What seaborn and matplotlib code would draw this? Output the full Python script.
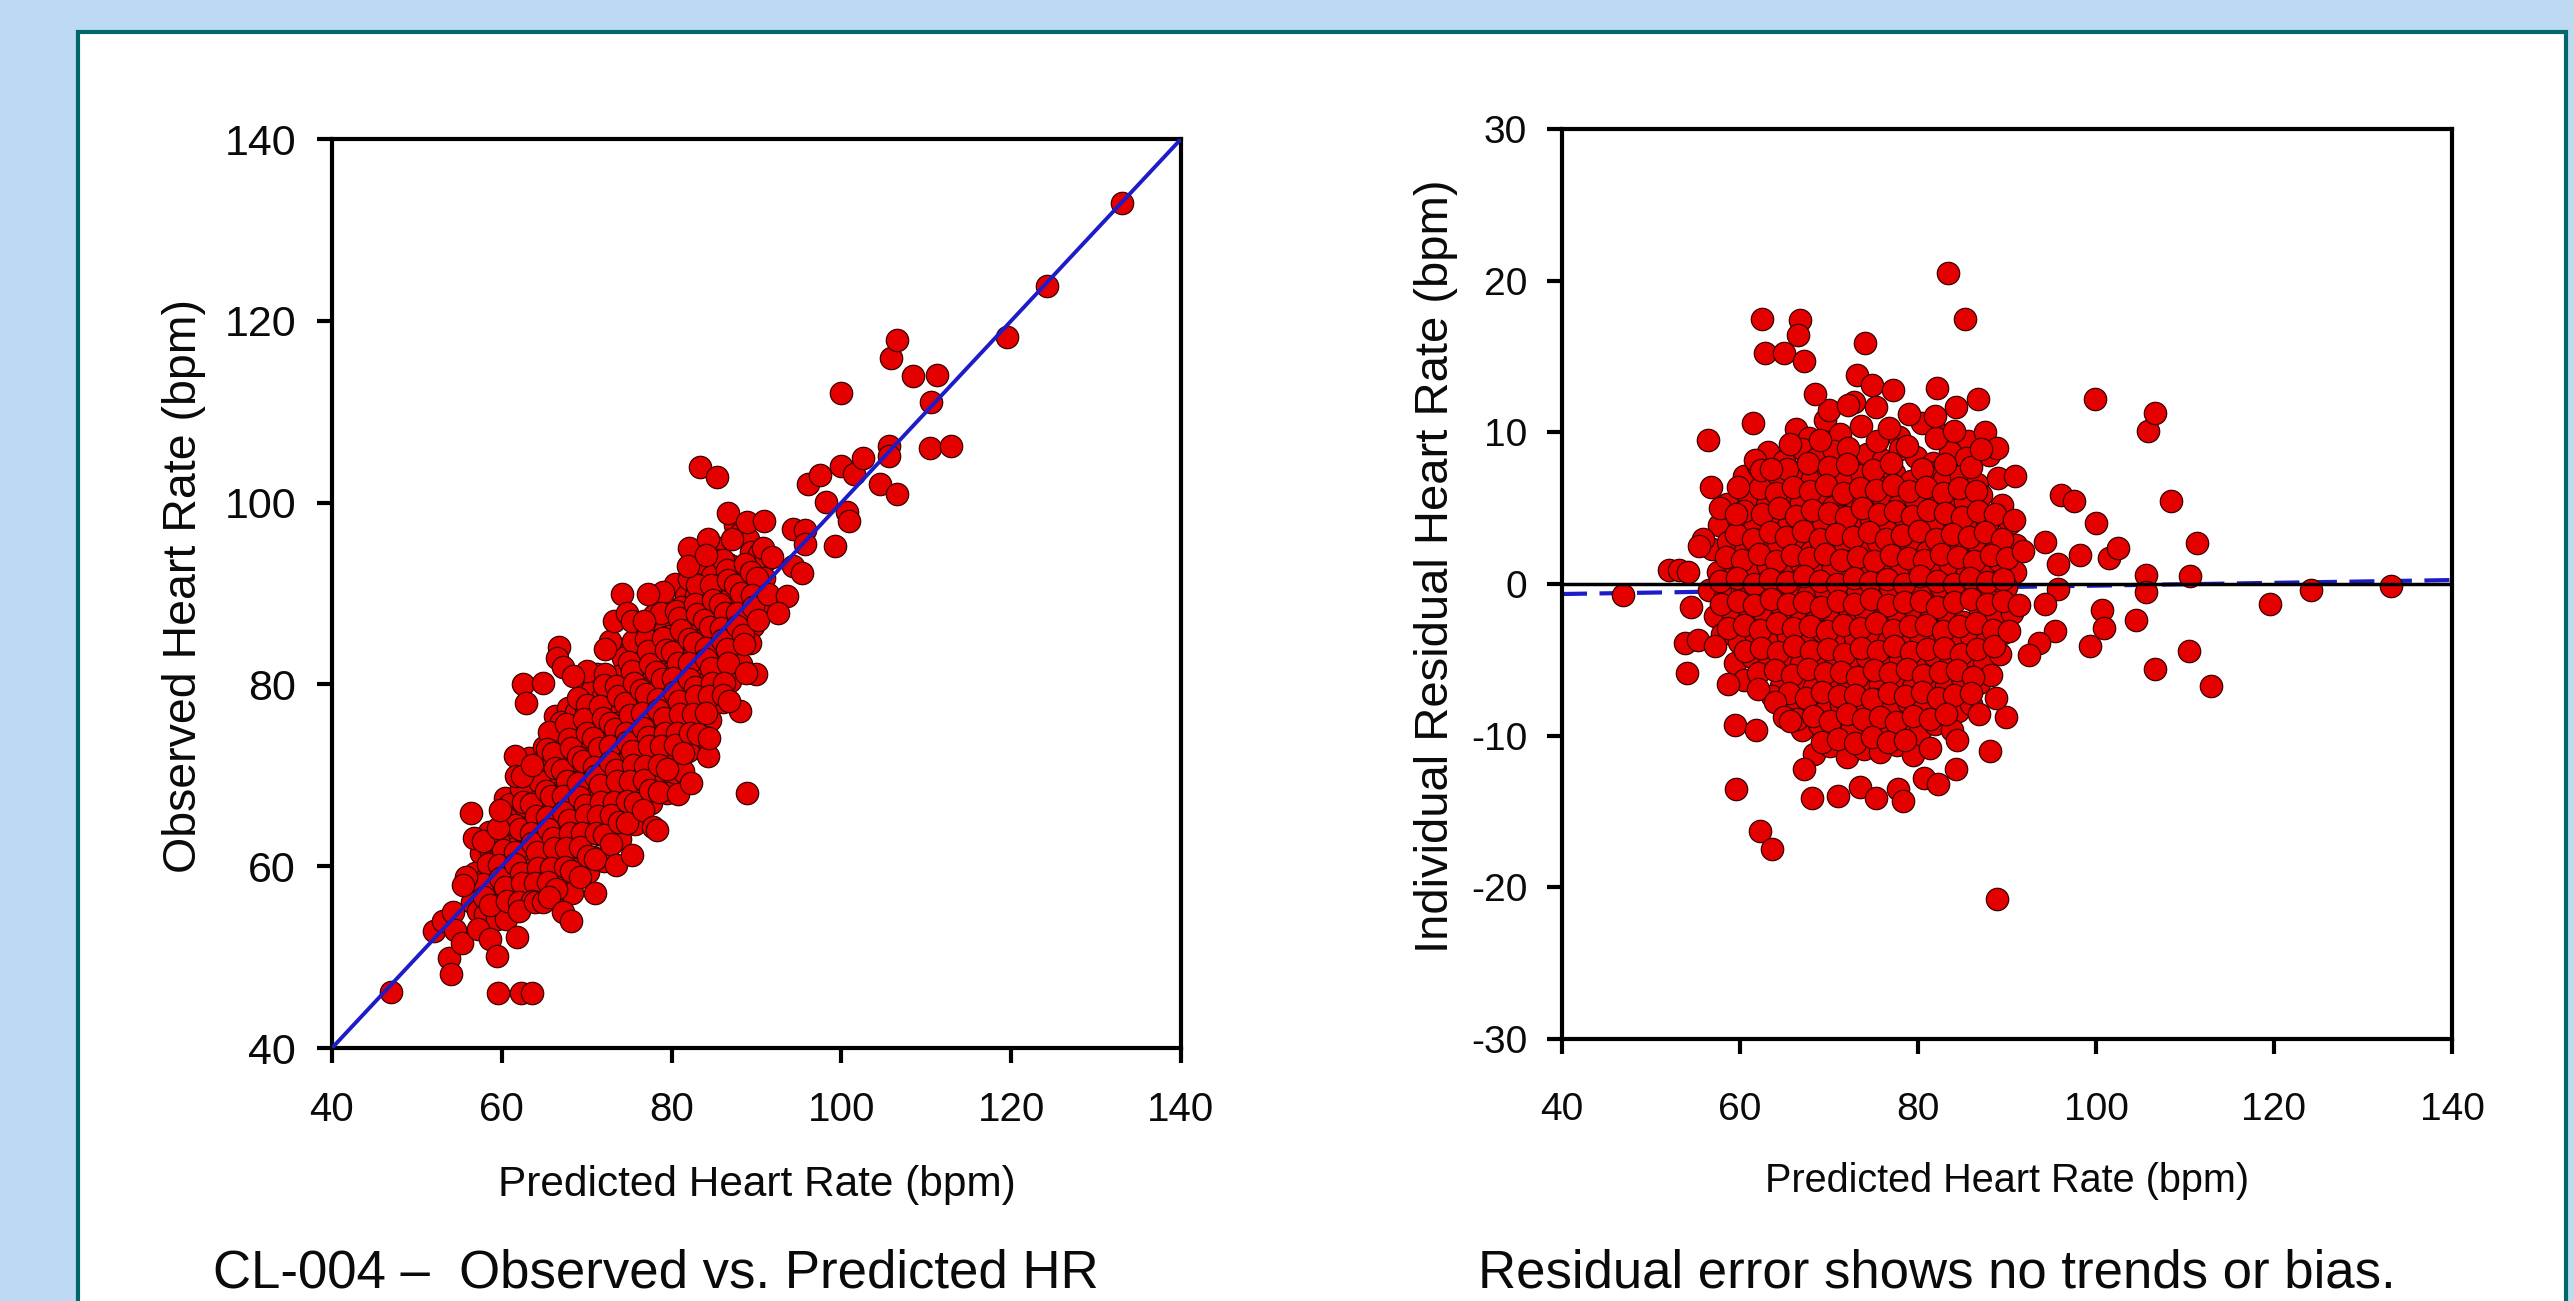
import numpy as np
import pandas as pd
import seaborn as sns
import matplotlib.pyplot as plt
from matplotlib.patches import Rectangle

## scatter values: predicted HR (bpm) and residual (observed - predicted)
## isolated points first
pred_out = [46.9, 52.0, 53.1, 54.2, 55.8, 55.4, 56.4, 56.7, 54.5, 53.8,
            54.0, 55.3, 57.2, 57.8, 59.6, 59.8, 58.6, 59.4, 59.6, 61.8,
            62.0, 61.5, 61.7, 62.4, 63.5, 62.5, 62.8, 64.9, 66.7, 66.5,
            67.2, 62.3, 63.6, 63.9, 64.9, 65.6, 67.2, 68.1, 71.0, 73.5,
            75.3, 77.8, 78.3, 80.7, 82.3, 84.3, 84.4, 88.1, 88.9, 89.9,
            88.8, 86.8, 83.4, 85.3, 74.1, 73.2, 74.8, 77.2, 75.3, 82.1,
            86.7, 84.3, 68.4, 72.1, 81.9, 76.7, 84.1, 88.9, 87.1, 90.9,
            90.8, 91.8, 94.3, 96.1, 97.5, 98.2, 99.9, 100.0, 101.5, 102.5,
            95.7, 95.7, 94.3, 91.4, 90.2, 95.4, 93.6, 92.5, 99.3, 100.7,
            100.9, 104.5, 105.6, 105.6, 105.8, 106.6, 106.6, 108.4, 110.6, 111.3,
            110.4, 112.9, 119.5, 124.2, 133.1]
res_out = [-0.75, 0.9, 0.9, 0.8, 3.0, 2.5, 9.5, 6.4, -1.5, -3.9,
           -5.9, -3.7, -4.1, 5.0, 4.6, 6.4, -6.6, -9.3, -13.5, -9.6,
           -6.9, 10.6, 8.2, 7.5, 7.6, 17.5, 15.2, 15.2, 17.4, 16.4,
           14.7, -16.3, -17.5, -7.8, -8.8, -9.0, -12.2, -14.1, -14.0, -13.4,
           -14.1, -13.5, -14.3, -12.8, -13.2, -12.2, -10.3, -11.0, -20.8, -8.8,
           -7.5, -8.6, 20.5, 17.5, 15.9, 13.8, 13.1, 12.8, 11.7, 12.9,
           12.2, 11.7, 12.5, 11.8, 11.1, 10.3, 10.1, 9.0, 8.9, 7.1,
           4.2, 2.2, 2.8, 5.9, 5.5, 1.9, 12.2, 4.0, 1.7, 2.4,
           1.3, -0.3, -1.3, -1.4, -3.1, -3.1, -3.9, -4.7, -4.1, -1.7,
           -2.9, -2.4, 0.6, -0.5, 10.1, 11.3, -5.6, 5.5, 0.5, 2.7,
           -4.4, -6.7, -1.3, -0.4, -0.1]

## the dense core, estimated band by band (top to bottom)
pred_core = [
    66.3, 67.8, 69.5, 71.2, 73.6, 77.9, 80.4, 83.0, 85.6, 87.5,
    63.2, 65.0, 67.0, 68.7, 70.6, 72.5, 74.3, 76.1, 78.0, 79.8, 81.7, 83.6, 85.4, 88.0,
    60.4, 64.4, 66.2, 68.1, 69.9, 71.8, 73.7, 75.5, 77.3, 79.2, 81.1, 82.9, 84.8, 86.6, 89.0,
    58.5, 61.0, 63.0, 64.9, 66.8, 68.6, 70.5, 72.4, 74.2, 76.0, 77.9, 79.7, 81.6, 83.5, 85.3, 87.1, 89.4,
    57.6, 59.8, 61.6, 63.5, 65.4, 67.2, 69.1, 71.0, 72.9, 74.7, 76.6, 78.4, 80.3, 82.1, 84.0, 85.9, 87.8, 90.3,
    56.9, 58.7, 60.6, 62.5, 64.3, 66.2, 68.0, 69.9, 71.8, 73.6, 75.5, 77.3, 79.2, 81.0, 82.9, 84.8, 86.6, 88.5, 91.0,
    57.5, 59.3, 61.2, 63.1, 64.9, 66.8, 68.7, 70.5, 72.4, 74.3, 76.1, 78.0, 79.8, 81.7, 83.6, 85.4, 87.3, 89.1, 90.9,
    56.5, 58.3, 60.2, 62.0, 63.9, 65.8, 67.6, 69.5, 71.3, 73.2, 75.1, 76.9, 78.8, 80.6, 82.5, 84.4, 86.2, 88.1, 89.9,
    57.2, 59.0, 60.9, 62.7, 64.6, 66.5, 68.3, 70.2, 72.1, 73.9, 75.8, 77.7, 79.5, 81.4, 83.2, 85.1, 87.0, 88.8, 90.6,
    58.0, 59.9, 61.7, 63.6, 65.4, 67.3, 69.2, 71.0, 72.9, 74.7, 76.6, 78.5, 80.3, 82.2, 84.0, 85.9, 87.8, 89.6,
    59.4, 61.3, 63.2, 65.0, 66.9, 68.7, 70.6, 72.5, 74.3, 76.2, 78.0, 79.9, 81.8, 83.6, 85.5, 87.4, 89.2,
    60.5, 64.6, 66.4, 68.3, 70.1, 72.0, 73.9, 75.7, 77.6, 79.4, 81.3, 83.2, 85.0, 86.9, 88.2,
    65.8, 67.7, 69.6, 71.4, 73.3, 75.1, 77.0, 78.9, 80.7, 82.6, 84.5, 86.0,
    67.0, 68.9, 70.8, 72.6, 74.5, 76.4, 78.2, 80.1, 81.9, 83.8,
    68.3, 70.1, 72.0, 73.9, 75.7, 77.6, 79.4, 81.3,
    70.0, 72.8, 79.0,
    65.6, 69.0, 72.1, 75.4, 78.8, 82.0,
    62.0, 65.3, 67.6, 70.0, 72.0, 75.0, 77.0, 80.5, 83.0, 86.0,
    62.3, 64.1, 66.0, 67.9, 69.7, 71.6, 73.5, 75.3, 77.2, 79.0, 80.9, 82.8, 84.6, 86.5,
    60.5, 62.5, 64.4, 66.3, 68.1, 70.0, 71.9, 73.7, 75.6, 77.4, 79.3, 81.1, 83.0, 84.9, 86.7, 88.6,
    59.6, 61.5, 63.4, 65.2, 67.1, 69.0, 70.8, 72.7, 74.5, 76.4, 78.2, 80.1, 82.0, 83.8, 85.7, 87.5, 89.4,
    58.4, 60.2, 62.1, 64.0, 65.8, 67.7, 69.6, 71.4, 73.3, 75.1, 77.0, 78.9, 80.7, 82.6, 84.5, 86.3, 88.2, 90.0,
    57.8, 59.7, 61.6, 63.4, 65.3, 67.2, 69.0, 70.9, 72.8, 74.6, 76.5, 78.4, 80.2, 82.1, 84.0, 85.8, 87.7, 89.5,
    57.9, 59.8, 61.6, 63.5, 65.4, 67.2, 69.1, 71.0, 72.8, 74.7, 76.6, 78.4, 80.3, 82.1, 84.0, 85.9, 87.7, 89.6,
    58.6, 60.4, 62.3, 64.2, 66.0, 67.9, 69.8, 71.6, 73.5, 75.3, 77.2, 79.1, 80.9, 82.8, 84.6, 86.5, 88.4,
    60.6, 62.4, 64.3, 66.1, 68.0, 69.9, 71.7, 73.6, 75.5, 77.3, 79.2, 81.0, 82.9, 84.8, 86.6, 88.5,
    62.0, 63.9, 65.8, 67.6, 69.5, 71.3, 73.2, 75.1, 76.9, 78.8, 80.6, 82.5, 84.4, 86.2,
    63.6, 65.5, 67.4, 69.2, 71.1, 72.9, 74.8, 76.7, 78.5, 80.4, 82.2, 84.1, 86.0,
    66.4, 68.2, 70.1, 72.0, 73.8, 75.7, 77.5, 79.4, 81.3, 83.1,
    69.2, 71.0, 72.9, 74.8, 76.6, 78.5,
]
res_core = [
    10.2, 9.6, 10.8, 9.9, 10.4, 9.7, 10.6, 9.8, 9.4, 10.0,
    8.7, 8.1, 8.9, 8.3, 8.8, 8.0, 8.6, 8.2, 8.9, 8.4, 8.0, 8.7, 8.3, 8.5,
    7.1, 6.8, 7.4, 6.9, 7.5, 6.7, 7.2, 6.6, 7.3, 6.8, 7.4, 6.9, 7.1, 6.6, 7.0,
    5.3, 5.8, 5.2, 5.9, 5.4, 5.7, 5.1, 5.9, 5.3, 5.8, 5.2, 5.6, 5.0, 5.8, 5.4, 5.9, 5.2,
    3.9, 4.3, 3.7, 4.4, 3.8, 4.2, 3.6, 4.5, 3.9, 4.3, 3.7, 4.4, 3.8, 4.1, 3.6, 4.4, 3.9, 4.0,
    2.3, 2.8, 2.2, 2.9, 2.4, 2.7, 2.1, 2.9, 2.5, 2.2, 2.8, 2.3, 2.6, 2.1, 2.9, 2.4, 2.7, 2.2, 2.6,
    0.8, 1.3, 0.7, 1.2, 0.9, 1.4, 0.6, 1.1, 1.5, 0.8, 1.2, 0.7, 1.4, 0.9, 1.3, 0.6, 1.1, 1.5, 0.8,
    -0.4, -0.8, -0.3, -0.9, -0.5, -0.2, -0.7, -0.4, -1.0, -0.3, -0.6, -0.2, -0.9, -0.5, -0.1, -0.8, -0.4, -0.6, -0.2,
    -2.1, -1.7, -2.4, -1.9, -2.2, -1.6, -2.5, -1.8, -2.3, -1.7, -2.4, -2.0, -1.6, -2.3, -1.9, -2.5, -1.8, -2.2, -1.9,
    -3.3, -3.8, -3.2, -3.9, -3.4, -3.7, -3.1, -3.9, -3.5, -3.2, -3.8, -3.3, -3.6, -3.1, -3.9, -3.4, -3.7, -3.2,
    -5.2, -4.8, -5.4, -4.9, -5.3, -4.7, -5.5, -5.0, -4.8, -5.4, -4.9, -5.2, -4.7, -5.3, -4.9, -5.1, -4.6,
    -6.3, -6.7, -6.2, -6.8, -6.4, -6.9, -6.3, -6.6, -6.1, -6.8, -6.4, -6.7, -6.2, -6.5, -6.0,
    -8.1, -7.7, -8.4, -7.9, -8.2, -7.6, -8.3, -7.8, -8.1, -7.7, -8.4, -7.9,
    -9.6, -9.2, -9.8, -9.4, -9.1, -9.7, -9.3, -9.9, -9.2, -9.6,
    -11.2, -10.7, -11.4, -10.9, -11.1, -10.6, -11.3, -10.8,
    11.5, 12.0, 11.2,
    9.2, 9.5, 9.0, 9.4, 9.1, 9.6,
    7.8, 7.6, 8.0, 7.7, 7.9, 7.5, 8.0, 7.6, 7.9, 7.7,
    6.3, 6.0, 6.4, 6.1, 6.5, 6.0, 6.3, 6.2, 6.5, 6.1, 6.4, 6.0, 6.3, 6.1,
    4.8, 4.6, 5.0, 4.5, 4.9, 4.7, 4.4, 5.0, 4.6, 4.8, 4.5, 4.9, 4.7, 4.4, 4.8, 4.6,
    3.3, 3.0, 3.4, 3.1, 3.5, 3.0, 3.3, 3.1, 3.4, 3.0, 3.2, 3.5, 3.0, 3.3, 3.1, 3.4, 3.0,
    1.8, 1.6, 2.0, 1.5, 1.9, 1.7, 2.0, 1.6, 1.8, 1.5, 1.9, 1.7, 1.6, 2.0, 1.8, 1.5, 1.9, 1.7,
    0.2, 0.4, 0.0, 0.3, 0.1, 0.5, 0.2, 0.0, 0.4, 0.1, 0.3, 0.0, 0.5, 0.2, 0.0, 0.4, 0.1, 0.3,
    -1.3, -1.1, -1.4, -1.0, -1.3, -1.2, -1.5, -1.1, -1.3, -1.0, -1.4, -1.2, -1.1, -1.5, -1.2, -1.0, -1.3, -1.1,
    -2.9, -2.7, -3.0, -2.6, -2.9, -2.8, -3.1, -2.7, -2.9, -2.6, -3.0, -2.8, -2.7, -3.1, -2.8, -2.6, -3.0,
    -4.4, -4.2, -4.5, -4.1, -4.4, -4.3, -4.6, -4.2, -4.4, -4.1, -4.5, -4.3, -4.2, -4.6, -4.3, -4.1,
    -5.9, -5.7, -6.0, -5.6, -5.9, -5.8, -6.1, -5.7, -5.9, -5.6, -6.0, -5.8, -5.7, -6.1,
    -7.4, -7.2, -7.5, -7.1, -7.4, -7.3, -7.6, -7.2, -7.4, -7.1, -7.5, -7.3, -7.2,
    -8.9, -8.7, -9.0, -8.6, -8.9, -8.8, -9.1, -8.7, -8.9, -8.6,
    -10.4, -10.2, -10.5, -10.1, -10.4, -10.3,
]

## reference lines
identity_x = [40, 140]
fit_x = [40, 140]
fit_y = [-0.66, 0.26]
hr_ticks = [40, 60, 80, 100, 120, 140]
res_ticks = [-30, -20, -10, 0, 10, 20, 30]

hr = pd.DataFrame({"pred": pred_core + pred_out, "res": res_core + res_out})
hr["obs"] = hr["pred"] + hr["res"]

sns.set_theme(style="ticks")
plt.rcParams["font.family"] = ["Liberation Sans", "DejaVu Sans"]
plt.rcParams["axes.unicode_minus"] = False

W, H = 2574, 1301
fig = plt.figure(figsize=(W / 100, H / 100), dpi=100)
fig.patch.set_facecolor("#BDDAF2")
## white panel with teal border, open at the bottom
fig.patches.append(Rectangle((78 / W, -0.05), (2566 - 78) / W, (H - 32) / H + 0.05,
                             transform=fig.transFigure, facecolor="white",
                             edgecolor="#006868", linewidth=3, zorder=-1))

ax1 = fig.add_axes([332 / W, 1 - 1048 / H, 849 / W, 909 / H])
ax2 = fig.add_axes([1562 / W, 1 - 1039 / H, 890 / W, 910 / H])

dot = dict(s=260, color="#E50000", edgecolor="#3a0000", linewidth=0.9, legend=False)

sns.scatterplot(data=hr, x="pred", y="obs", ax=ax1, zorder=2, **dot)
ax1.plot(identity_x, identity_x, color="#1C1CC8", linewidth=2.8, zorder=3)
ax1.set_xlim(40, 140)
ax1.set_ylim(40, 140)
ax1.set_xticks(hr_ticks)
ax1.set_yticks(hr_ticks)
ax1.set_xlabel("Predicted Heart Rate (bpm)", fontsize=30.5)
ax1.set_ylabel("Observed Heart Rate (bpm)", fontsize=33.5)
ax1.tick_params(axis="x", labelsize=29, pad=20)
ax1.tick_params(axis="y", labelsize=31, pad=15)

ax2.plot(fit_x, fit_y, color="#1C1CC8", linewidth=3, dashes=(6, 3), zorder=1)
sns.scatterplot(data=hr, x="pred", y="res", ax=ax2, zorder=2, **dot)
ax2.axhline(0, color="black", linewidth=2.5, zorder=3)
ax2.set_xlim(40, 140)
ax2.set_ylim(-30, 30)
ax2.set_xticks(hr_ticks)
ax2.set_yticks(res_ticks)
ax2.set_xlabel("Predicted Heart Rate (bpm)", fontsize=28.5)
ax2.set_ylabel("Individual Residual Heart Rate (bpm)", fontsize=34)
ax2.tick_params(axis="x", labelsize=28, pad=27)
ax2.tick_params(axis="y", labelsize=28, pad=14)

for ax in (ax1, ax2):
    ax.set_facecolor("white")
    for sp in ax.spines.values():
        sp.set_linewidth(3)
        sp.set_color("black")
    ax.tick_params(direction="out", length=11, width=3, color="black",
                   labelcolor="#0a0a0a", top=False, right=False)
    ax.xaxis.label.set_color("#0a0a0a")
    ax.yaxis.label.set_color("#0a0a0a")
    ax.xaxis.label.set_va("baseline")
    ax.yaxis.label.set_va("center")

ax1.xaxis.set_label_coords(0.5, (1048 - 1196) / 909)
ax1.yaxis.set_label_coords((184 - 332) / 849, 0.508)
ax2.xaxis.set_label_coords(0.5, (1039 - 1192) / 910)
ax2.yaxis.set_label_coords((1436 - 1562) / 890, 0.52)

fig.text(213 / W, 1 - 1288 / H, "CL-004 \u2013  Observed vs. Predicted HR",
         fontsize=38, color="#0a0a0a", ha="left", va="baseline")
fig.text(1478 / W, 1 - 1288 / H, "Residual error shows no trends or bias.",
         fontsize=38, color="#0a0a0a", ha="left", va="baseline")

fig.savefig("out.png", dpi=100, facecolor=fig.get_facecolor())
